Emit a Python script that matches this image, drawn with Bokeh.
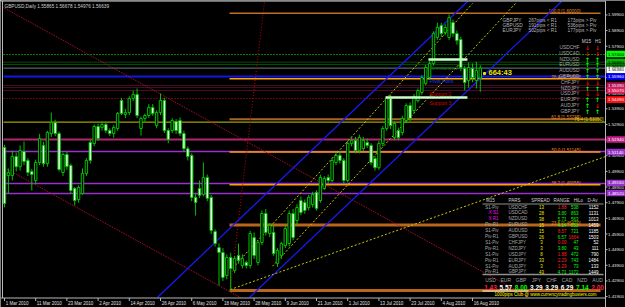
from bokeh.plotting import figure
from bokeh.models import Range1d, ColumnDataSource
from bokeh.core.properties import value
from bokeh.embed import file_html
from bokeh.resources import INLINE

# ---------------- data ----------------
symbol = "GBPUSD,Daily"
header_ohlc = ["1.55865", "1.56678", "1.54976", "1.56639"]

opens = [1.5143, 1.4964, 1.4964, 1.5085, 1.5020, 1.5117, 1.5060, 1.4990, 1.4932, 1.5047,
         1.5155, 1.5040, 1.5232, 1.5302, 1.5232, 1.4983, 1.5098, 1.5028, 1.4881, 1.4810,
         1.4849, 1.4977, 1.5175, 1.5168, 1.5277, 1.5271, 1.5290, 1.5251, 1.5232, 1.5264,
         1.5443, 1.5354, 1.5366, 1.5456, 1.5481, 1.5264, 1.5328, 1.5347, 1.5398, 1.5283,
         1.5366, 1.5443, 1.5251, 1.5251, 1.5309, 1.5315, 1.5232, 1.5135, 1.5092, 1.4824,
         1.4881, 1.4842, 1.4951, 1.4824, 1.4606, 1.4503, 1.4472, 1.4325, 1.4440, 1.4357,
         1.4453, 1.4389, 1.4408, 1.4389, 1.4567, 1.4408, 1.4535, 1.4721, 1.4593, 1.4600,
         1.4402, 1.4452, 1.4516, 1.4529, 1.4721, 1.4676, 1.4804, 1.4791, 1.4759, 1.4778,
         1.4856, 1.4804, 1.4881, 1.4951, 1.4932, 1.5047, 1.5092, 1.5060, 1.4932, 1.5168,
         1.5187, 1.5124, 1.5136, 1.5175, 1.5156, 1.5072, 1.5014, 1.5168, 1.5264, 1.5456,
         1.5206, 1.5251, 1.5238, 1.5315, 1.5411, 1.5379, 1.5443, 1.5494, 1.5552, 1.5590,
         1.5680, 1.5846, 1.5922, 1.5878, 1.5846, 1.5941, 1.5871, 1.5833, 1.5648, 1.5571,
         1.5648, 1.5571, 1.5587]
highs = [1.5160, 1.5009, 1.5124, 1.5110, 1.5156, 1.5181, 1.5075, 1.5005, 1.5065, 1.5230,
         1.5180, 1.5250, 1.5366, 1.5320, 1.5245, 1.5110, 1.5115, 1.5040, 1.4890, 1.4900,
         1.5009, 1.5075, 1.5190, 1.5290, 1.5295, 1.5310, 1.5305, 1.5265, 1.5285, 1.5370,
         1.5460, 1.5390, 1.5470, 1.5507, 1.5520, 1.5340, 1.5360, 1.5420, 1.5420, 1.5380,
         1.5488, 1.5460, 1.5265, 1.5330, 1.5325, 1.5335, 1.5250, 1.5150, 1.5105, 1.4850,
         1.4932, 1.5047, 1.4970, 1.4840, 1.4620, 1.4530, 1.4500, 1.4460, 1.4470, 1.4450,
         1.4529, 1.4460, 1.4420, 1.4610, 1.4600, 1.4550, 1.4740, 1.4750, 1.4660, 1.4650,
         1.4500, 1.4540, 1.4640, 1.4740, 1.4750, 1.4780, 1.4830, 1.4810, 1.4840, 1.4860,
         1.4870, 1.4970, 1.4960, 1.4970, 1.5080, 1.5110, 1.5120, 1.5075, 1.5185, 1.5210,
         1.5210, 1.5225, 1.5210, 1.5200, 1.5170, 1.5090, 1.5185, 1.5280, 1.5470, 1.5480,
         1.5310, 1.5270, 1.5345, 1.5425, 1.5430, 1.5485, 1.5520, 1.5605, 1.5670, 1.5695,
         1.5885, 1.5941, 1.5940, 1.5930, 1.5993, 1.5960, 1.5890, 1.5850, 1.5665, 1.5686,
         1.5680, 1.5690, 1.5668]
lows = [1.4760, 1.4849, 1.4932, 1.4990, 1.4995, 1.5030, 1.4960, 1.4868, 1.4910, 1.5030,
        1.5020, 1.5020, 1.5210, 1.5215, 1.4990, 1.4960, 1.5000, 1.4850, 1.4772, 1.4790,
        1.4840, 1.4960, 1.5040, 1.5150, 1.5185, 1.5250, 1.5235, 1.5215, 1.5205, 1.5250,
        1.5350, 1.5330, 1.5350, 1.5440, 1.5330, 1.5219, 1.5310, 1.5330, 1.5345, 1.5265,
        1.5350, 1.5235, 1.5170, 1.5235, 1.5230, 1.5215, 1.5120, 1.5060, 1.4800, 1.4708,
        1.4820, 1.4830, 1.4800, 1.4590, 1.4510, 1.4261, 1.4290, 1.4300, 1.4229, 1.4340,
        1.4400, 1.4370, 1.4370, 1.4370, 1.4430, 1.4390, 1.4520, 1.4580, 1.4570, 1.4450,
        1.4380, 1.4430, 1.4500, 1.4510, 1.4550, 1.4650, 1.4710, 1.4720, 1.4740, 1.4760,
        1.4740, 1.4790, 1.4870, 1.4910, 1.4920, 1.5030, 1.5040, 1.4910, 1.4920, 1.5150,
        1.5105, 1.5105, 1.5120, 1.5140, 1.5030, 1.4995, 1.5000, 1.5150, 1.5250, 1.5260,
        1.5190, 1.5190, 1.5220, 1.5300, 1.5310, 1.5360, 1.5430, 1.5480, 1.5540, 1.5575,
        1.5665, 1.5830, 1.5850, 1.5860, 1.5830, 1.5850, 1.5800, 1.5630, 1.5507, 1.5525,
        1.5560, 1.5520, 1.5498]
closes = [1.4785, 1.4983, 1.5085, 1.5020, 1.5124, 1.5053, 1.4983, 1.4970, 1.5047, 1.5200,
          1.5040, 1.5239, 1.5302, 1.5232, 1.5002, 1.5098, 1.5021, 1.4868, 1.4804, 1.4887,
          1.4977, 1.5060, 1.5060, 1.5277, 1.5200, 1.5290, 1.5251, 1.5232, 1.5271, 1.5360,
          1.5360, 1.5366, 1.5456, 1.5481, 1.5347, 1.5328, 1.5347, 1.5398, 1.5360, 1.5366,
          1.5443, 1.5251, 1.5194, 1.5315, 1.5251, 1.5232, 1.5135, 1.5085, 1.4824, 1.4792,
          1.4837, 1.4951, 1.4818, 1.4612, 1.4529, 1.4472, 1.4312, 1.4440, 1.4370, 1.4434,
          1.4421, 1.4434, 1.4389, 1.4593, 1.4452, 1.4535, 1.4721, 1.4600, 1.4644, 1.4465,
          1.4485, 1.4529, 1.4625, 1.4721, 1.4567, 1.4759, 1.4727, 1.4740, 1.4824, 1.4842,
          1.4754, 1.4951, 1.4945, 1.4932, 1.5060, 1.5092, 1.5060, 1.4932, 1.5168, 1.5187,
          1.5124, 1.5207, 1.5187, 1.5156, 1.5047, 1.5014, 1.5168, 1.5264, 1.5456, 1.5283,
          1.5296, 1.5206, 1.5328, 1.5411, 1.5328, 1.5469, 1.5507, 1.5590, 1.5654, 1.5680,
          1.5871, 1.5910, 1.5871, 1.5910, 1.5973, 1.5871, 1.5826, 1.5654, 1.5558, 1.5654,
          1.5590, 1.5635, 1.5650]

date_ticks = [0, 8, 16, 24, 32, 40, 48, 56, 64, 72, 80, 88, 96, 104, 112, 120]
date_labels = ["1 Mar 2010", "11 Mar 2010", "23 Mar 2010", "2 Apr 2010", "14 Apr 2010",
               "26 Apr 2010", "6 May 2010", "18 May 2010", "28 May 2010", "9 Jun 2010",
               "21 Jun 2010", "1 Jul 2010", "13 Jul 2010", "23 Jul 2010", "4 Aug 2010",
               "16 Aug 2010"]
price_ticks = [1.419, 1.429, 1.439, 1.449, 1.459, 1.469, 1.479, 1.489, 1.499, 1.509,
               1.519, 1.529, 1.539, 1.549, 1.559, 1.569, 1.579, 1.589, 1.599]

# horizontal pivot / level lines (full width)
level_prices = [1.5737, 1.5688, 1.5673, 1.5596, 1.5539, 1.5526, 1.5507, 1.5456,
                1.5305, 1.5194, 1.5117, 1.4913, 1.4849]
# fibonacci retracement of the May low -> Aug high
fib_low, fib_high = 1.4229, 1.6000
fib_pcts = [0.0, 23.6, 38.2, 50.0, 61.8, 76.4, 100.0]
fib_start_bar = 58

# trend lines: (bar0, price0, bar1, price1)
trend_red = [(-0.26, 1.6037, 134.6, 1.4184), (-0.26, 1.5017, 60.5, 1.4184)]
trend_red_steep = (57.9, 1.4235, 66.7, 1.6082)
trend_blue = [(39.2, 1.4184, 119.0, 1.6082), (62.8, 1.4184, 143.1, 1.6082)]
trend_yellow = [(57.9, 1.4235, 154.1, 1.5085), (58.5, 1.4372, 120.0, 1.6063),
                (68.7, 1.4384, 131.0, 1.6063)]
# support / resistance boxes (bar0, bar1, price)
sr_bars = [(108.7, 118.7, 1.5705), (97.7, 118.7, 1.5462)]

# right-axis level tags
tag_prices = [1.5740, 1.5689, 1.5663, 1.5638, 1.5596, 1.5539, 1.5507, 1.5449,
              1.5194, 1.5114, 1.4916, 1.4852]

# info panels
top_pairs = ["GBPJPY", "GBPUSD", "EURJPY"]
top_r1 = ["267pips < R1", "191pips < R1", "502pips < R1"]
top_piv = ["173pips > Piv", "536pips > Piv", "177pips > Piv"]

pairs = ["USDCHF", "USDCAD", "NZDUSD", "EURUSD", "AUDUSD", "GBPUSD",
         "CHFJPY", "NZDJPY", "USDJPY", "EURJPY", "AUDJPY", "GBPJPY"]
m15_dir = [-1, -1, 1, 1, 1, 1, -1, 1, -1, 1, 1, 1]
h1_dir = [-1, -1, 1, 1, 1, 1, -1, 1, -1, 1, -1, 1]

tbl_status = ["S1-Piv", "X S1", "X R1", "Piv-R1", "S1-Piv", "Piv-R1",
              "S1-Piv", "Piv-R1", "S1-Piv", "Piv-R1", "S1-Piv", "Piv-R1"]
tbl_spread = [13, 28, 38, 15, 15, 26, 3, 3, 8, 33, 3, 43]
tbl_range = [1.88, 3.80, 5.71, 4.14, 8.57, 6.57, 0.00, 3.80, 1.88, 2.29, 1.29, 4.71]
tbl_range_up = [False, True, True, True, False, True, False, True, False, False, False, True]
tbl_hilo = [538, 863, 563, 851, 721, 1664, 47, 43, 472, 743, 73, 1172]
tbl_dav = [1152, 1131, 1013, 1459, 1185, 1503, 52, 111, 790, 1484, 133, 1449]

currencies = ["USD", "EUR", "GBP", "JPY", "CHF", "CAD", "NZD", "AUD"]
strength = [1.43, 5.57, 8.00, 3.29, 3.29, 6.29, 7.14, 2.00]

countdown = "664:43"
footer = "1000pips Club @ www.currencytradingbusters.com"

# ---------------- layout helpers (pixel -> data) ----------------
X0, DX = 4.0, 3.9
PTOP, DP = 1.60821, 0.000639


def ix(px):
    return (px - X0) / DX


def py(y):
    return PTOP - DP * y


FONT = value("Liberation Sans")

p = figure(width=625, height=307, x_range=Range1d(ix(0), ix(625)),
           y_range=Range1d(py(307), py(0)), toolbar_location=None,
           output_backend="svg", x_axis_location=None, y_axis_location=None,
           background_fill_color="black", border_fill_color="black",
           outline_line_color=None, min_border=0)
p.grid.visible = False

XL, XR = ix(3), ix(605)

# ---- full width level lines ----
lvl_colors = ["#00ff00", "#00a000", "#00a000", "#1515e8", "#8b1a4a", "#8b1a4a", "#a01838",
              "#d01010", "#c8c800", "#b0286e", "#9932cc", "#9932cc", "#9932cc"]
lvl_dash = ["1 2", "1 1", "1 1", "solid", "1 1", "1 1", "1 1", "1 2",
            "solid", "solid", "solid", "solid", "solid"]
lvl_width = [1, 1, 1, 2, 1, 1, 1, 1, 1, 2, 1.5, 1.5, 1.5]
for pr, c, d, w in zip(level_prices, lvl_colors, lvl_dash, lvl_width):
    p.segment(x0=[XL], y0=[pr], x1=[XR], y1=[pr], line_color=c, line_dash=d, line_width=w)

# bid line
p.segment(x0=[XL], y0=[closes[-1]], x1=[XR], y1=[closes[-1]], line_color="#6a7a8a", line_width=1)

# ---- fibonacci ----
fib_colors = ["#b8661c", "#b8661c", "#ffa000", "#ff9a10", "#a8642a", "#ffa500", "#c07020"]
fib_width = [3, 3, 1.5, 1.5, 2, 1.5, 1.5]
fib_prices = [fib_low + (fib_high - fib_low) * f / 100.0 for f in fib_pcts]
for pr, c, w in zip(fib_prices, fib_colors, fib_width):
    p.segment(x0=[fib_start_bar - 0.3], y0=[pr], x1=[ix(600)], y1=[pr], line_color=c, line_width=w)
fib_txt = ["%.1f [%.5f]" % (f, pr) for f, pr in zip(fib_pcts, fib_prices)]
p.text(x=[ix(580)] * 6, y=[pr + 0.0009 for pr in fib_prices[1:]], text=fib_txt[1:],
       text_color="#e08a20", text_font=FONT, text_font_size="4.6px",
       text_align="right", text_baseline="middle")
p.text(x=[ix(603)], y=[level_prices[8] + 0.0016], text=["76.4 [%.5f]" % level_prices[8]],
       text_color="#d8d800", text_font=FONT, text_font_size="4.6px",
       text_align="right", text_baseline="middle")

# ---- trend lines ----
for (a, b, c_, d) in trend_red:
    p.segment(x0=[a], y0=[b], x1=[c_], y1=[d], line_color="#c01030", line_dash="1 1", line_width=1)
a, b, c_, d = trend_red_steep
p.segment(x0=[a], y0=[b], x1=[c_], y1=[d], line_color="#d00000", line_dash="1 2", line_width=1)
for (a, b, c_, d) in trend_blue:
    p.segment(x0=[a], y0=[b], x1=[c_], y1=[d], line_color="#1a1aff", line_width=1.2)
for (a, b, c_, d) in trend_yellow:
    p.segment(x0=[a], y0=[b], x1=[c_], y1=[d], line_color="#c8c800", line_dash="2 2", line_width=1)

# ---- candles ----
bars = list(range(len(opens)))
src = ColumnDataSource(dict(
    x=bars, h=highs, l=lows,
    top=[max(o, c) for o, c in zip(opens, closes)],
    bot=[min(o, c) for o, c in zip(opens, closes)],
    fill=["#000000" if c >= o else "#f4fff4" for o, c in zip(opens, closes)]))
p.segment(x0="x", y0="l", x1="x", y1="h", line_color="#00c000", line_width=1, source=src)
p.vbar(x="x", width=0.62, top="top", bottom="bot", fill_color="fill",
       line_color="#00c000", line_width=1, source=src)

# ---- support/resistance bars and labels ----
for (a, b, pr) in sr_bars:
    p.segment(x0=[a], y0=[pr], x1=[b], y1=[pr], line_color="#c8ffc8", line_width=2.5)
p.text(x=[ix(429)] * 4, y=[py(67), py(80), py(93), py(102)],
       text=["Resistance 2", "Pivot Point", "Support 2", "Support 3"],
       text_color=["#007000", "#2040ff", "#d00000", "#d00000"], text_font=FONT,
       text_font_size="5px", text_baseline="middle")

# countdown
p.text(x=[ix(488)], y=[py(72)], text=[countdown], text_color="#e6e600", text_font=FONT,
       text_font_size="7.5px", text_font_style="bold", text_baseline="middle")
p.scatter(x=[ix(484)], y=[py(73)], marker="square", size=2, color="#e6e600")

# ---- header ----
p.text(x=[ix(4)], y=[py(6)], text=[symbol + "  " + " ".join(header_ohlc)],
       text_color="#d0d0d0", text_font=FONT, text_font_size="4.7px", text_baseline="middle")

# ---- top right block ----
rows_y = [py(19.5), py(24.8), py(30.1)]
p.text(x=[ix(502)] * 3, y=rows_y, text=top_pairs, text_color="#b4b4b4", text_font=FONT,
       text_font_size="4.8px", text_baseline="middle")
p.text(x=[ix(528)] * 3, y=rows_y, text=top_r1, text_color="#b4b4b4", text_font=FONT,
       text_font_size="4.8px", text_baseline="middle")
p.text(x=[ix(567)] * 3, y=rows_y, text=top_piv, text_color="#b4b4b4", text_font=FONT,
       text_font_size="4.8px", text_baseline="middle")

# ---- trend panel ----
p.text(x=[ix(586), ix(597.5)], y=[py(41)] * 2, text=["M15", "H1"], text_color="#d0d0d0",
       text_font=FONT, text_font_size="4.8px", text_align="center", text_baseline="middle")
pan_y = [py(47 + 5.8 * i) for i in range(len(pairs))]
p.text(x=[ix(579)] * len(pairs), y=pan_y, text=pairs, text_color="#a8a8a8", text_font=FONT,
       text_font_size="4.8px", text_align="right", text_baseline="middle")
for col_x, dirs in ((587, m15_dir), (597, h1_dir)):
    p.text(x=[ix(col_x)] * len(dirs), y=pan_y, text=["↑" if d > 0 else "↓" for d in dirs],
           text_color=["#00ff00" if d > 0 else "#ff0000" for d in dirs],
           text_font=value("DejaVu Sans"), text_font_size="6px", text_font_style="bold",
           text_align="center", text_baseline="middle")

# ---- bottom right table ----
TF = "4.5px"
hdr_y = py(200)
p.text(x=[ix(490), ix(514), ix(540), ix(561), ix(578), ix(592)], y=[hdr_y] * 6,
       text=["M15", "PARS", "SPREAD", "RANGE", "HiLo", "D-Av"], text_color="#d0d0d0",
       text_font=FONT, text_font_size=TF, text_align="center", text_baseline="middle")
p.segment(x0=[ix(482), ix(482)], y0=[py(203.5), py(274)], x1=[ix(603), ix(603)],
          y1=[py(203.5), py(274)], line_color="#909090", line_width=[1, 1.5])
row_y = [py(206.5 + 5.9 * i) for i in range(len(pairs))]
n = len(pairs)
p.text(x=[ix(498)] * n, y=row_y, text=tbl_status,
       text_color=["#ff00ff" if s.startswith("X") else "#a8a8a8" for s in tbl_status],
       text_font=FONT, text_font_size=TF, text_align="right", text_baseline="middle")
p.text(x=[ix(508)] * n, y=row_y, text=pairs, text_color="#a8a8a8", text_font=FONT,
       text_font_size=TF, text_baseline="middle")
p.text(x=[ix(541)] * n, y=row_y, text=[str(s) for s in tbl_spread], text_color="#e8e800",
       text_font=FONT, text_font_size=TF, text_align="center", text_baseline="middle")
p.text(x=[ix(566)] * n, y=row_y, text=["%.2f" % r for r in tbl_range],
       text_color=["#00ff00" if u else "#ff2020" for u in tbl_range_up],
       text_font=FONT, text_font_size=TF, text_align="right", text_baseline="middle")
p.text(x=[ix(578)] * n, y=row_y, text=[str(h) for h in tbl_hilo],
       text_color=["#ff2020" if h > 1500 else "#00ff00" for h in tbl_hilo],
       text_font=FONT, text_font_size=TF, text_align="right", text_baseline="middle")
p.text(x=[ix(598)] * n, y=row_y, text=[str(d) for d in tbl_dav], text_color="#ffffff",
       text_font=FONT, text_font_size=TF, text_align="right", text_baseline="middle")

cur_x = [ix(490 + 15.3 * i) for i in range(len(currencies))]
p.text(x=cur_x, y=[py(279)] * len(currencies), text=currencies, text_color="#a0a0a0",
       text_font=FONT, text_font_size="5px", text_align="center", text_baseline="middle")
p.text(x=cur_x, y=[py(286.5)] * len(strength), text=["%.2f" % s for s in strength],
       text_color=["#00ff00" if s >= 7 else ("#ff2040" if s < 2.5 else "#ffffff") for s in strength],
       text_font=FONT, text_font_size="6.5px", text_font_style="bold",
       text_align="center", text_baseline="middle")
p.segment(x0=[ix(482)], y0=[py(290.5)], x1=[ix(528)], y1=[py(290.5)], line_color="#ffffe0", line_width=1)
p.text(x=[ix(545)], y=[py(294)], text=[footer], text_color="#ffff00", text_font=FONT,
       text_font_size="4.5px", text_align="center", text_baseline="middle")

# ---- frame and axes ----
p.segment(x0=[ix(2), ix(0), ix(605), ix(0)], y0=[py(0), py(0.6), py(0), py(297.5)],
          x1=[ix(2), ix(605), ix(605), ix(605)], y1=[py(297.5), py(0.6), py(307), py(297.5)],
          line_color="#b8b8b8", line_width=1)
# price axis
p.segment(x0=[ix(605)] * len(price_ticks), y0=price_ticks, x1=[ix(607)] * len(price_ticks),
          y1=price_ticks, line_color="#b8b8b8", line_width=1)
p.text(x=[ix(607.5)] * len(price_ticks), y=price_ticks, text=["%.5f" % t for t in price_ticks],
       text_color="#e0e0e0", text_font=FONT, text_font_size="4.4px", text_baseline="middle")
# level tags
tag_colors = ["#00ff00", "#00b400", "#007800", "#ffffff", "#0000ff", "#b0105a", "#e0205a",
              "#ff1010", "#c0208a", "#9932cc", "#9932cc", "#9932cc"]
tag_text = ["#000000", "#000000", "#000000", "#000000", "#ffffff", "#ffffff", "#ffffff",
            "#ffffff", "#ffffff", "#ffffff", "#ffffff", "#ffffff"]
p.quad(left=[ix(606)] * len(tag_prices), right=[ix(626)] * len(tag_prices),
       top=[t + DP * 3.3 for t in tag_prices], bottom=[t - DP * 3.3 for t in tag_prices],
       fill_color=tag_colors, line_color=None)
p.text(x=[ix(607.5)] * len(tag_prices), y=tag_prices, text=["%.5f" % t for t in tag_prices],
       text_color=tag_text, text_font=FONT, text_font_size="4.4px", text_baseline="middle")
# date axis
p.segment(x0=date_ticks, y0=[py(297.5)] * len(date_ticks), x1=date_ticks,
          y1=[py(300.5)] * len(date_ticks), line_color="#b8b8b8", line_width=1)
p.text(x=[d + 0.3 for d in date_ticks], y=[py(302.5)] * len(date_ticks), text=date_labels,
       text_color="#e0e0e0", text_font=FONT, text_font_size="4.5px", text_baseline="middle")

open("out.html", "w").write(file_html(p, INLINE))
